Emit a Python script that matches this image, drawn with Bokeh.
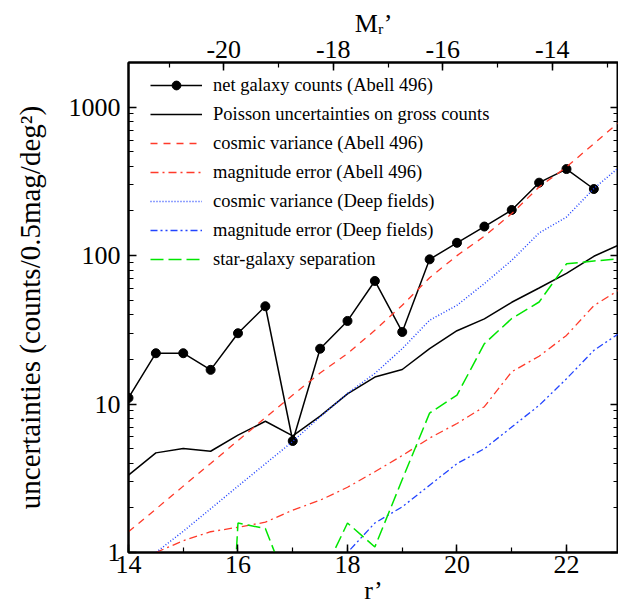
from bokeh.plotting import figure
from bokeh.models import (Range1d, LinearAxis, LogAxis, SingleIntervalTicker, LogTicker,
                          Legend, LegendItem, CustomJSTickFormatter)
from bokeh.embed import file_html
from bokeh.resources import INLINE

# ---------------- data ----------------
r_mag = [14.0, 14.5, 15.0, 15.5, 16.0, 16.5, 17.0, 17.5, 18.0, 18.5,
         19.0, 19.5, 20.0, 20.5, 21.0, 21.5, 22.0, 22.5, 23.0]

net_r = [14.0, 14.5, 15.0, 15.5, 16.0, 16.5, 17.0, 17.5, 18.0, 18.5,
         19.0, 19.5, 20.0, 20.5, 21.0, 21.5, 22.0, 22.5]
net_counts = [11, 22, 22, 17, 30, 45.6, 5.64, 23.6, 36.3, 67.5,
              30.6, 94.4, 122, 157, 203, 310, 383, 281]

poisson = [3.32, 4.69, 5.02, 4.81, 6.17, 7.66, 6.1, 8.3, 11.7, 15.2,
           17.1, 23.6, 31.2, 37.5, 48.5, 60.5, 76, 99, 120]

cv_abell = [1.38, 1.96, 2.8, 3.98, 5.68, 8.09, 11.5, 16.2, 21.9, 31.4,
            46.3, 71, 100, 135, 192, 290, 395, 568, 815]

magerr_abell = [0.7, 1.0, 1.2, 1.38, 1.48, 1.6, 1.93, 2.25, 2.75, 3.5,
                4.5, 5.9, 7.4, 9.6, 16.5, 21, 29, 46, 60]

cv_deep = [0.7, 1.0, 1.39, 1.97, 2.8, 3.96, 5.6, 8.2, 11.8, 16.1,
           23.6, 36.7, 46.3, 64.8, 93, 142, 182, 283, 405]

magerr_deep_r = [17.5, 18.0, 18.5, 19.0, 19.5, 20.0, 20.5, 21.0, 21.5, 22.0, 22.5, 23.0]
magerr_deep = [0.7, 1.0, 1.58, 2.03, 2.84, 3.97, 5.0, 7.0, 9.8, 14.8, 23, 30.6]

star_gal = [1.06, 0.001, 0.001, 0.001, 1.58, 1.45, 0.49, 0.65, 1.58, 1.09,
            3.1, 8.7, 11.5, 25.5, 37.7, 48.7, 88, 92, 95.5]

dist_mod = 35.74  # r' - M_r'
x_lo, x_hi = 14.0, 22.95
y_lo, y_hi = 1.0, 2000.0

labels = ["net galaxy counts (Abell 496)",
          "Poisson uncertainties on gross counts",
          "cosmic variance (Abell 496)",
          "magnitude error (Abell 496)",
          "cosmic variance (Deep fields)",
          "magnitude error (Deep fields)",
          "star-galaxy separation"]

FONT = "'Liberation Serif', 'Times New Roman', Times, serif"
RED = "#ff3a2a"
BLUE = "#2244ff"
GREEN = "#00e600"

p = figure(width=618, height=612, x_range=Range1d(x_lo, x_hi), y_range=Range1d(y_lo, y_hi),
           y_axis_type="log", output_backend="svg", toolbar_location=None,
           min_border_left=128, min_border_top=62, min_border_bottom=60, min_border_right=0)
p.extra_x_ranges = {"mag": Range1d(x_lo - dist_mod, x_hi - dist_mod)}
p.xgrid.visible = False
p.ygrid.visible = False
p.outline_line_color = "black"
p.outline_line_width = 2
p.background_fill_color = "white"
p.border_fill_color = "white"

plain_fmt = CustomJSTickFormatter(code="return Math.round(tick).toString();")

def style_axis(ax):
    ax.axis_line_width = 2
    ax.axis_line_color = "black"
    ax.major_tick_in = 8
    ax.major_tick_out = 0
    ax.minor_tick_in = 5
    ax.minor_tick_out = 0
    ax.major_tick_line_width = 1.5
    ax.minor_tick_line_width = 1.2
    ax.major_label_text_font = FONT
    ax.major_label_text_color = "black"
    ax.major_label_text_font_size = "26px"
    ax.axis_label_text_font = FONT
    ax.axis_label_text_font_style = "normal"
    ax.axis_label_text_color = "black"

# bottom axis
xb = p.xaxis[0]
xb.ticker = SingleIntervalTicker(interval=2, num_minor_ticks=2)
style_axis(xb)
xb.formatter = plain_fmt
xb.axis_label = "r\u2019"
xb.axis_label_text_font_size = "26px"
xb.major_label_standoff = 3
xb.axis_label_standoff = 0

# left axis
yl = p.yaxis[0]
yl.ticker = LogTicker(num_minor_ticks=10)
style_axis(yl)
yl.formatter = plain_fmt
yl.axis_label = "uncertainties (counts/0.5mag/deg\u00b2)"
yl.axis_label_text_font_size = "29px"
yl.major_label_standoff = 8
yl.axis_label_standoff = 20

# top axis (absolute magnitude)
xt = LinearAxis(x_range_name="mag", ticker=SingleIntervalTicker(interval=2, num_minor_ticks=2))
style_axis(xt)
xt.formatter = plain_fmt
xt.axis_label = "M\u1d63\u2019"
xt.axis_label_text_font_size = "26px"
xt.major_label_standoff = 5
xt.axis_label_standoff = 0
p.add_layout(xt, "above")

# right axis (ticks only)
yr = LogAxis(ticker=LogTicker(num_minor_ticks=10))
style_axis(yr)
yr.formatter = CustomJSTickFormatter(code="return '';")
yr.major_label_standoff = 0
p.add_layout(yr, "right")

# ---------------- lines ----------------
r_net_line = p.line(net_r, net_counts, line_color="black", line_width=1.5)
r_net_pts = p.scatter(net_r, net_counts, size=9, fill_color="black", line_color="black")
r_pois = p.line(r_mag, poisson, line_color="black", line_width=1.5)
r_cva = p.line(r_mag, cv_abell, line_color=RED, line_width=1.3, line_dash="7 6")
r_mea = p.line(r_mag, magerr_abell, line_color=RED, line_width=1.3, line_dash="8 4 2 4")
r_cvd = p.line(r_mag, cv_deep, line_color=BLUE, line_width=1.5, line_dash="1 2")
r_med = p.line(magerr_deep_r, magerr_deep, line_color=BLUE, line_width=1.3, line_dash="7 3 2 3 2 3")
r_sg = p.line(r_mag, star_gal, line_color=GREEN, line_width=1.5, line_dash="13 5")

items = [LegendItem(label=labels[0], renderers=[r_net_line, r_net_pts]),
         LegendItem(label=labels[1], renderers=[r_pois]),
         LegendItem(label=labels[2], renderers=[r_cva]),
         LegendItem(label=labels[3], renderers=[r_mea]),
         LegendItem(label=labels[4], renderers=[r_cvd]),
         LegendItem(label=labels[5], renderers=[r_med]),
         LegendItem(label=labels[6], renderers=[r_sg])]
legend = Legend(items=items, location=(22, 282), padding=0, margin=0,
                glyph_width=52, glyph_height=22, label_height=22, spacing=7,
                label_standoff=11, label_text_font=FONT, label_text_font_size="18.5px",
                label_text_color="black", border_line_alpha=0, background_fill_alpha=0)
p.add_layout(legend)

open("out.html", "w").write(file_html(p, INLINE))
